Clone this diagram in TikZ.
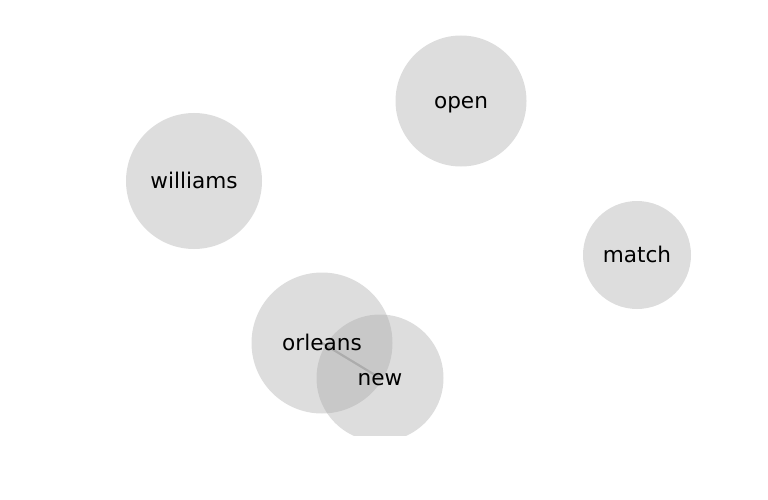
\documentclass[tikz,border=0pt]{standalone}
\usepackage{fontspec}
\setmainfont{DejaVu Sans}
\usepackage{tikz}

\begin{document}
\begin{tikzpicture}[x=1pt,y=-1pt,
		disc/.style={circle, fill={rgb,255:red,166;green,166;blue,166}, fill opacity=0.38,
			inner sep=0pt},
		word/.style={inner sep=0pt, text height=20.4pt, text depth=5.2pt,
			font=\fontsize{21.6}{26}\selectfont}]
		\useasboundingbox (0,0) rectangle (768,500);
		\begin{scope}
		\clip (0,0) rectangle (768,435);
		%Koordinaten der Knotenmitten
		\coordinate (O) at (322,343);
		\coordinate (N) at (380,378);
		\draw[line width=2.2pt, gray!55] (O) -- (N);
		
		\node[disc, minimum size=131pt] (c-open) at (461,101) {};
		\node[disc, minimum size=136pt] (c-williams) at (194,181) {};
		\node[disc, minimum size=108pt] (c-match) at (637,255) {};
		\node[disc, minimum size=141pt] (c-orleans) at (O) {};
		\node[disc, minimum size=127pt] (c-new) at (N) {};
		\end{scope}
		
		\node[word] (open) at (c-open) {open};
		\node[word] (williams) at (c-williams) {williams};
		\node[word] (match) at (c-match) {match};
		\node[word] (orleans) at (c-orleans) {orleans};
		\node[word] (new) at (c-new) {new};
		\end{tikzpicture}
\end{document}
